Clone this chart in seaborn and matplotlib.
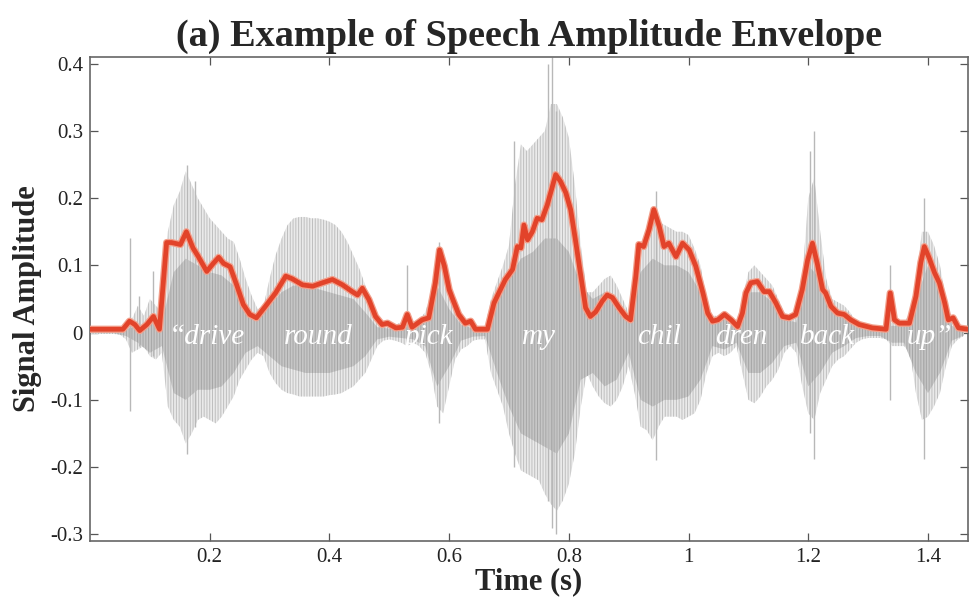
import numpy as np
import pandas as pd
import matplotlib
matplotlib.use("Agg")
import matplotlib.pyplot as plt
import seaborn as sns

# ---------------- data ----------------
# outer extent of the speech waveform (10 ms grid)
wave_t = [round(0.01 * i, 2) for i in range(147)]
wave_hi = [0.002, 0.002, 0.002, 0.002, 0.002, 0.003, 0.010, 0.020, 0.040, 0.025,
           0.050, 0.040, 0.030, 0.150, 0.190, 0.210, 0.240, 0.220, 0.200, 0.185,
           0.170, 0.160, 0.150, 0.140, 0.135, 0.110, 0.080, 0.055, 0.035, 0.040,
           0.080, 0.115, 0.140, 0.160, 0.170, 0.172, 0.172, 0.170, 0.170, 0.168,
           0.165, 0.160, 0.150, 0.135, 0.115, 0.095, 0.070, 0.045, 0.020, 0.012,
           0.010, 0.012, 0.015, 0.020, 0.015, 0.020, 0.030, 0.060, 0.120, 0.110,
           0.060, 0.035, 0.025, 0.020, 0.010, 0.008, 0.008, 0.050, 0.075, 0.100,
           0.130, 0.220, 0.280, 0.270, 0.280, 0.290, 0.300, 0.340, 0.340, 0.320,
           0.290, 0.220, 0.130, 0.060, 0.060, 0.070, 0.080, 0.085, 0.070, 0.050,
           0.030, 0.080, 0.130, 0.150, 0.170, 0.165, 0.160, 0.155, 0.150, 0.150,
           0.145, 0.125, 0.100, 0.050, 0.025, 0.025, 0.030, 0.020, 0.015, 0.050,
           0.090, 0.100, 0.090, 0.080, 0.070, 0.050, 0.030, 0.020, 0.030, 0.080,
           0.200, 0.230, 0.150, 0.080, 0.050, 0.045, 0.040, 0.030, 0.015, 0.010,
           0.008, 0.008, 0.008, 0.010, 0.015, 0.015, 0.015, 0.030, 0.080, 0.150,
           0.150, 0.130, 0.100, 0.050, 0.020, 0.010, 0.005]
wave_lo = [-0.002, -0.002, -0.002, -0.002, -0.002, -0.003, -0.010, -0.030, -0.025, -0.020,
           -0.035, -0.040, -0.030, -0.110, -0.130, -0.140, -0.165, -0.150, -0.130, -0.125,
           -0.130, -0.135, -0.125, -0.110, -0.095, -0.070, -0.055, -0.040, -0.030, -0.035,
           -0.060, -0.075, -0.085, -0.090, -0.092, -0.095, -0.095, -0.095, -0.095, -0.095,
           -0.093, -0.092, -0.090, -0.085, -0.080, -0.070, -0.060, -0.040, -0.020, -0.012,
           -0.010, -0.012, -0.015, -0.020, -0.015, -0.020, -0.030, -0.060, -0.110, -0.120,
           -0.080, -0.040, -0.025, -0.020, -0.012, -0.010, -0.010, -0.060, -0.085, -0.110,
           -0.150, -0.180, -0.205, -0.210, -0.215, -0.220, -0.240, -0.255, -0.265, -0.250,
           -0.225, -0.180, -0.110, -0.060, -0.080, -0.095, -0.105, -0.110, -0.100, -0.080,
           -0.050, -0.090, -0.140, -0.145, -0.160, -0.140, -0.125, -0.125, -0.125, -0.130,
           -0.125, -0.120, -0.100, -0.060, -0.035, -0.030, -0.035, -0.030, -0.020, -0.060,
           -0.100, -0.105, -0.095, -0.080, -0.070, -0.055, -0.030, -0.020, -0.030, -0.080,
           -0.120, -0.130, -0.090, -0.070, -0.050, -0.040, -0.035, -0.025, -0.015, -0.010,
           -0.008, -0.008, -0.008, -0.010, -0.020, -0.020, -0.020, -0.030, -0.090, -0.130,
           -0.125, -0.110, -0.090, -0.050, -0.020, -0.010, -0.005]

# dense (darker) core of the waveform (20 ms grid)
core_t = [round(0.02 * i, 2) for i in range(74)]
core_hi = [0.001, 0.001, 0.001, 0.005, 0.010, 0.015, 0.015, 0.090, 0.110, 0.100,
           0.090, 0.085, 0.070, 0.040, 0.020, 0.040, 0.060, 0.070, 0.070, 0.065,
           0.060, 0.055, 0.050, 0.030, 0.008, 0.006, 0.008, 0.008, 0.015, 0.070,
           0.035, 0.012, 0.006, 0.005, 0.050, 0.080, 0.110, 0.120, 0.140, 0.140,
           0.120, 0.070, 0.050, 0.060, 0.050, 0.020, 0.090, 0.110, 0.100, 0.100,
           0.090, 0.060, 0.015, 0.020, 0.010, 0.060, 0.060, 0.045, 0.020, 0.015,
           0.100, 0.080, 0.030, 0.025, 0.008, 0.005, 0.005, 0.010, 0.010, 0.050,
           0.100, 0.060, 0.010, 0.004]
core_lo = [-0.001, -0.001, -0.001, -0.005, -0.015, -0.030, -0.020, -0.090, -0.100, -0.085,
           -0.085, -0.080, -0.060, -0.030, -0.020, -0.035, -0.050, -0.055, -0.060, -0.060,
           -0.060, -0.055, -0.050, -0.035, -0.010, -0.006, -0.008, -0.010, -0.020, -0.080,
           -0.050, -0.012, -0.006, -0.005, -0.060, -0.110, -0.150, -0.160, -0.170, -0.180,
           -0.150, -0.070, -0.060, -0.080, -0.070, -0.030, -0.100, -0.110, -0.100, -0.100,
           -0.095, -0.070, -0.020, -0.025, -0.015, -0.060, -0.060, -0.045, -0.020, -0.015,
           -0.080, -0.060, -0.030, -0.020, -0.008, -0.005, -0.005, -0.015, -0.015, -0.060,
           -0.090, -0.060, -0.012, -0.004]

# isolated tall glottal spikes
spike_t = [0.066, 0.082, 0.106, 0.162, 0.175, 0.530, 0.583, 0.709, 0.765, 0.772,
           0.779, 0.945, 1.203, 1.209, 1.337, 1.393]
spike_hi = [0.140, 0.055, 0.092, 0.250, 0.225, 0.100, 0.135, 0.285, 0.400, 0.410,
            0.330, 0.210, 0.270, 0.300, 0.100, 0.200]
spike_lo = [-0.117, -0.020, -0.035, -0.180, -0.140, -0.015, -0.135, -0.200, -0.250, -0.290,
            -0.300, -0.190, -0.150, -0.188, -0.100, -0.188]

# amplitude envelope (red line)
env_t = [0.000, 0.030, 0.055, 0.066, 0.075, 0.083, 0.095, 0.106, 0.116, 0.128,
         0.136, 0.151, 0.161, 0.172, 0.181, 0.195, 0.206, 0.215, 0.223, 0.234,
         0.245, 0.256, 0.267, 0.278, 0.293, 0.310, 0.327, 0.338, 0.355, 0.372,
         0.388, 0.405, 0.422, 0.438, 0.447, 0.455, 0.466, 0.477, 0.488, 0.497,
         0.511, 0.522, 0.530, 0.538, 0.555, 0.566, 0.577, 0.584, 0.592, 0.600,
         0.605, 0.616, 0.627, 0.636, 0.644, 0.664, 0.675, 0.683, 0.694, 0.706,
         0.714, 0.720, 0.725, 0.731, 0.739, 0.747, 0.755, 0.764, 0.778, 0.786,
         0.795, 0.803, 0.811, 0.820, 0.828, 0.836, 0.845, 0.856, 0.864, 0.873,
         0.884, 0.895, 0.903, 0.912, 0.917, 0.925, 0.934, 0.942, 0.951, 0.959,
         0.967, 0.979, 0.990, 1.001, 1.012, 1.024, 1.032, 1.040, 1.049, 1.060,
         1.071, 1.082, 1.090, 1.096, 1.104, 1.115, 1.126, 1.135, 1.146, 1.157,
         1.168, 1.179, 1.190, 1.199, 1.207, 1.215, 1.224, 1.229, 1.238, 1.249,
         1.260, 1.271, 1.285, 1.307, 1.330, 1.337, 1.344, 1.352, 1.369, 1.380,
         1.388, 1.394, 1.402, 1.411, 1.419, 1.428, 1.434, 1.442, 1.451, 1.467]
env_v = [0.005, 0.005, 0.005, 0.017, 0.012, 0.003, 0.012, 0.024, 0.005, 0.134,
         0.134, 0.131, 0.150, 0.126, 0.113, 0.091, 0.103, 0.112, 0.103, 0.098,
         0.071, 0.042, 0.027, 0.022, 0.039, 0.059, 0.084, 0.080, 0.071, 0.069,
         0.074, 0.079, 0.071, 0.061, 0.056, 0.066, 0.049, 0.024, 0.012, 0.014,
         0.007, 0.008, 0.027, 0.008, 0.019, 0.022, 0.074, 0.123, 0.099, 0.064,
         0.052, 0.027, 0.014, 0.017, 0.005, 0.005, 0.044, 0.059, 0.079, 0.094,
         0.128, 0.126, 0.160, 0.138, 0.150, 0.170, 0.168, 0.190, 0.235, 0.225,
         0.208, 0.183, 0.138, 0.084, 0.037, 0.024, 0.031, 0.047, 0.056, 0.052,
         0.037, 0.024, 0.019, 0.084, 0.131, 0.128, 0.153, 0.183, 0.158, 0.128,
         0.133, 0.113, 0.133, 0.123, 0.099, 0.059, 0.029, 0.017, 0.019, 0.027,
         0.019, 0.009, 0.029, 0.059, 0.074, 0.076, 0.061, 0.061, 0.044, 0.024,
         0.022, 0.027, 0.064, 0.108, 0.133, 0.103, 0.064, 0.059, 0.039, 0.029,
         0.027, 0.019, 0.012, 0.007, 0.005, 0.059, 0.019, 0.014, 0.014, 0.054,
         0.104, 0.128, 0.111, 0.089, 0.074, 0.044, 0.019, 0.022, 0.007, 0.005]

# word labels
words = ["\u201cdrive", "round", "pick", "my", "chil", "dren", "back", "up\u201d"]
word_t = [0.195, 0.382, 0.566, 0.750, 0.951, 1.088, 1.232, 1.402]

x_ticks = [0.2, 0.4, 0.6, 0.8, 1.0, 1.2, 1.4]
x_ticklabels = ["0.2", "0.4", "0.6", "0.8", "1", "1.2", "1.4"]
y_ticks = [-0.3, -0.2, -0.1, 0.0, 0.1, 0.2, 0.3, 0.4]
y_ticklabels = ["-0.3", "-0.2", "-0.1", "0", "0.1", "0.2", "0.3", "0.4"]

# ---------------- plotting ----------------
sns.set_style("ticks")
plt.rcParams["font.family"] = ["Liberation Serif", "DejaVu Serif"]
plt.rcParams["hatch.linewidth"] = 0.7

fig = plt.figure(figsize=(9.7, 6.01), dpi=100)
ax = fig.add_axes([0.0928, 0.0998, 0.9052, 0.8054])

ax.fill_between(wave_t, wave_lo, wave_hi, facecolor="#eaeaea", edgecolor="#bebebe",
                hatch="||||||", linewidth=0, zorder=1)
ax.fill_between(core_t, core_lo, core_hi, facecolor="#c6c6c6", edgecolor="#a6a6a6",
                hatch="||||||", linewidth=0, zorder=2)
ax.vlines(spike_t, spike_lo, spike_hi, color="#b8b8b8", linewidth=1.0, zorder=2)

for w, t in zip(words, word_t):
    ax.text(t, -0.006, w, color="white", fontsize=21, style="italic",
            ha="center", va="center", zorder=3)

env_df = pd.DataFrame({"t": env_t, "v": env_v})
sns.lineplot(data=env_df, x="t", y="v", ax=ax, color="#f2a08c", linewidth=5.2,
             zorder=4, estimator=None, sort=False)
sns.lineplot(data=env_df, x="t", y="v", ax=ax, color="#e2432a", linewidth=3.4,
             zorder=5, estimator=None, sort=False)

ax.set_xlim(0, 1.467)
ax.set_ylim(-0.31, 0.41)
ax.set_xticks(x_ticks)
ax.set_xticklabels(x_ticklabels)
ax.set_yticks(y_ticks)
ax.set_yticklabels(y_ticklabels)
ax.tick_params(direction="in", top=True, right=True, length=6, width=0.9,
               colors="#555555", labelcolor="#222222", labelsize=15, pad=5)
for s in ax.spines.values():
    s.set_visible(True)
    s.set_color("#666666")
    s.set_linewidth(1.2)

ax.set_xlabel("Time (s)", fontsize=22, fontweight="bold", labelpad=0)
ax.set_ylabel("Signal Amplitude", fontsize=22, fontweight="bold", labelpad=6)
ax.set_title("(a) Example of Speech Amplitude Envelope", fontsize=27.5,
             fontweight="bold", pad=8)

fig.savefig("out.png", dpi=100)
